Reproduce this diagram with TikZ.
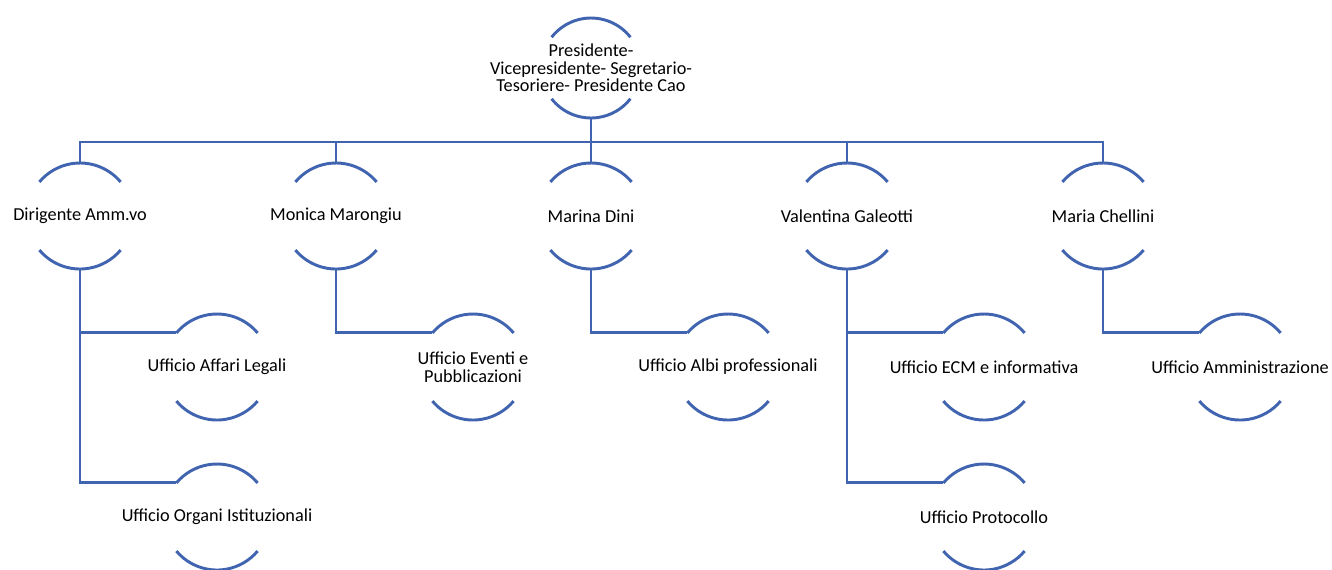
\documentclass[tikz,border=0pt]{standalone}
\usepackage{fontspec}
\setmainfont{Carlito}
\definecolor{orgblue}{RGB}{64,100,175}
\tikzset{
  unit/.style={inner sep=0pt, outer sep=0pt, align=center,
    font=\fontsize{13.7}{13.2}\selectfont},
  link/.style={draw=orgblue, line width=2.2pt},
}
\begin{document}
\begin{tikzpicture}[x=0.75pt,y=-0.75pt]
   \useasboundingbox (0,0) rectangle (1332,569);
   % top
   \node[unit] (P) at (591,68)
     {Presidente-\\Vicepresidente- Segretario-\\Tesoriere- Presidente Cao};
   % first level
   \node[unit] (D) at (80,216)   {Dirigente Amm.vo};
   \node[unit] (M) at (336,216)  {Monica Marongiu};
   \node[unit] (N) at (591,216)  {Marina Dini};
   \node[unit] (V) at (847,216)  {Valentina Galeotti};
   \node[unit] (C) at (1103,216) {Maria Chellini};
   % offices
   \node[unit] (D1) at (217,367)  {Ufficio Affari Legali};
   \node[unit] (D2) at (217,517)  {Ufficio Organi Istituzionali};
   \node[unit] (M1) at (473,367)  {Ufficio Eventi e\\Pubblicazioni};
   \node[unit] (N1) at (728,367)  {Ufficio Albi professionali};
   \node[unit] (V1) at (984,367)  {Ufficio ECM e informativa};
   \node[unit] (V2) at (984,517)  {Ufficio Protocollo};
   \node[unit] (C1) at (1240,367) {Ufficio Amministrazione};
   % arcs
   \draw[link] ([shift={(38:37.5pt)}]P.center) arc[start angle=38, end angle=142, radius=37.5pt];
   \draw[link] ([shift={(218:37.5pt)}]P.center) arc[start angle=218, end angle=322, radius=37.5pt];
   \coordinate (P-bot) at ([yshift=-37.5pt]P.center);
   \foreach \u in {D,M,N,V,C,D1,D2,M1,N1,V1,V2,C1} {
     \draw[link] ([shift={(40:39.75pt)}]\u.center) arc[start angle=40, end angle=140, radius=39.75pt];
     \draw[link] ([shift={(220:39.75pt)}]\u.center) arc[start angle=220, end angle=320, radius=39.75pt];
     \coordinate (\u-top) at ([yshift=39.75pt]\u.center);
     \coordinate (\u-bot) at ([yshift=-39.75pt]\u.center);
     \coordinate (\u-in)  at ([shift={(140:39.75pt)}]\u.center);
   }
   % connectors
   \coordinate (bus) at (591,142);
   \draw[link] (P-bot) -- (N-top);
   \draw[link] (D-top) |- (bus) -| (C-top);
   \draw[link] (M-top) -- (M-top |- bus);
   \draw[link] (V-top) -- (V-top |- bus);
   \draw[link] (D-bot) |- (D2-in);
   \draw[link] (D1-in) -- (D1-in -| D-bot);
   \draw[link] (M-bot) |- (M1-in);
   \draw[link] (N-bot) |- (N1-in);
   \draw[link] (V-bot) |- (V2-in);
   \draw[link] (V1-in) -- (V1-in -| V-bot);
   \draw[link] (C-bot) |- (C1-in);
\end{tikzpicture}
\end{document}
